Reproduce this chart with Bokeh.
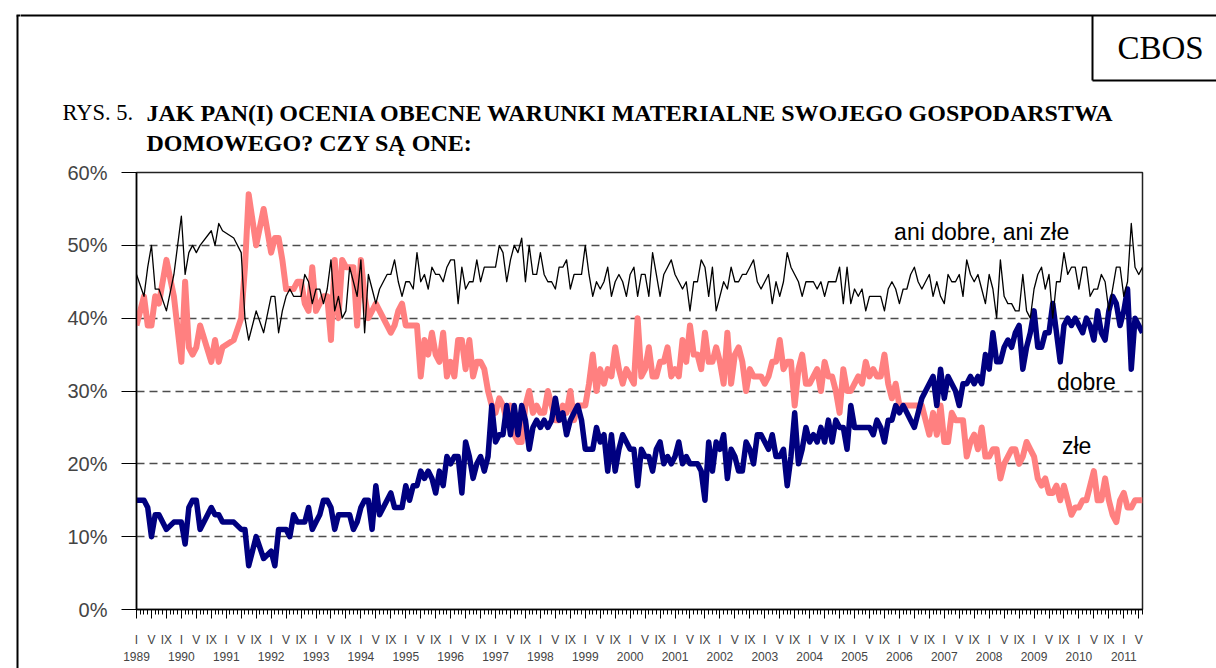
from bokeh.plotting import figure
from bokeh.models import Range1d, FixedTicker, Label, ColumnDataSource, LinearAxis
from bokeh.layouts import column, row
from bokeh.core.properties import value
from bokeh.embed import file_html
from bokeh.resources import INLINE

# ---------------- data (months counted from Jan 1989 = 0) ----------------
early_months = [0, 2, 3, 4, 5, 6, 8, 10, 12, 13, 14, 15, 16, 17, 20, 21, 22, 23,
                26, 28, 29, 30, 32, 34]
ani_early = [46, 43, 47, 50, 44, 44, 41, 46, 54, 46, 49, 50, 49, 50, 52, 50, 53, 52,
             51, 49, 40, 37, 41, 38]
zle_early = [39, 43, 39, 39, 43, 42, 48, 43, 34, 45, 36, 35, 36, 39, 34, 37, 34, 36,
             37, 40, 47, 57, 50, 55]
dobre_early = [15, 15, 14, 10, 13, 13, 11, 12, 12, 9, 14, 15, 15, 11, 14, 13, 13, 12,
               12, 11, 11, 6, 10, 7]

# monthly from Jan 1992 to Jun 2011
monthly_start = 36
monthly_end = 269

ani_monthly = [
    43, 43, 38, 41, 43, 44, 43, 43, 43, 46, 45, 42,   # 1992
    44, 44, 42, 44, 48, 41, 43, 40, 41, 47, 45, 43,   # 1993
    48, 38, 46, 44, 42, 44, 45, 46, 46, 48, 45, 43,   # 1994
    45, 45, 44, 49, 45, 46, 44, 47, 46, 46, 45, 47,   # 1995
    48, 48, 42, 47, 44, 45, 45, 48, 45, 47, 47, 47,   # 1996
    47, 50, 49, 45, 48, 50, 49, 51, 45, 50, 46, 46,   # 1997
    49, 46, 45, 45, 44, 47, 47, 48, 44, 46, 46, 46,   # 1998
    50, 46, 43, 45, 44, 45, 47, 43, 45, 46, 45, 43,   # 1999
    46, 47, 43, 46, 46, 43, 49, 46, 43, 46, 47, 48,   # 2000
    46, 45, 44, 45, 41, 45, 45, 48, 47, 43, 47, 41,   # 2001
    43, 45, 44, 47, 45, 45, 46, 46, 47, 48, 45, 44,   # 2002
    45, 46, 42, 45, 43, 45, 49, 47, 46, 45, 43, 45,   # 2003
    45, 45, 44, 45, 43, 45, 45, 45, 47, 42, 47, 42,   # 2004
    44, 43, 44, 41, 43, 43, 43, 43, 41, 44, 45, 44,   # 2005
    42, 44, 44, 46, 47, 45, 44, 45, 46, 43, 45, 43,   # 2006
    42, 46, 45, 45, 46, 43, 48, 46, 45, 46, 44, 42,   # 2007
    46, 44, 40, 48, 43, 42, 42, 41, 41, 46, 41, 40,   # 2008
    44, 46, 47, 44, 46, 40, 45, 45, 49, 46, 47, 47,   # 2009
    44, 47, 47, 43, 44, 44, 46, 45, 41, 44, 47, 47,   # 2010
    43, 45, 53, 47, 46, 47,                           # 2011
]
zle_monthly = [
    49, 51, 51, 48, 44, 44, 44, 45, 45, 42, 41, 47,   # 1992
    41, 42, 43, 43, 37, 48, 40, 48, 47, 47, 47, 39,   # 1993
    48, 43, 40, 41, 42, 41, 40, 39, 38, 39, 41, 42,   # 1994
    39, 39, 39, 39, 32, 37, 35, 38, 35, 34, 38, 32,   # 1995
    34, 32, 37, 37, 33, 37, 32, 34, 34, 33, 30, 28,   # 1996
    27, 29, 28, 26, 28, 24, 23, 23, 28, 30, 27, 28,   # 1997
    27, 27, 30, 28, 26, 26, 28, 27, 30, 26, 28, 28,   # 1998
    28, 31, 35, 30, 33, 31, 33, 32, 36, 33, 31, 33,   # 1999
    32, 31, 40, 32, 33, 36, 32, 32, 34, 34, 36, 32,   # 2000
    33, 32, 37, 34, 39, 35, 35, 33, 38, 34, 34, 36,   # 2001
    34, 31, 38, 31, 35, 36, 34, 30, 33, 32, 32, 32,   # 2002
    31, 32, 34, 34, 37, 33, 34, 34, 28, 33, 35, 31,   # 2003
    31, 32, 33, 30, 34, 32, 32, 30, 27, 33, 30, 30,   # 2004
    31, 32, 31, 34, 32, 33, 32, 32, 35, 31, 29, 31,   # 2005
    28, 28, 28, 28, 28, 28, 28, 26, 24, 27, 24, 28,   # 2006
    23, 23, 27, 26, 26, 26, 21, 23, 24, 22, 25, 21,   # 2007
    21, 22, 22, 18, 20, 21, 22, 22, 20, 21, 23, 22,   # 2008
    21, 18, 17, 18, 16, 16, 17, 15, 17, 15, 13, 14,   # 2009
    14, 15, 15, 17, 19, 15, 15, 18, 15, 13, 12, 15,   # 2010
    16, 14, 14, 15, 15, 15,                           # 2011
]
dobre_monthly = [
    8, 6, 11, 11, 11, 10, 13, 12, 12, 12, 14, 11,     # 1992
    12, 13, 15, 15, 14, 11, 13, 13, 13, 13, 11, 12,   # 1993
    14, 15, 15, 11, 17, 13, 14, 15, 16, 14, 14, 14,   # 1994
    17, 15, 17, 17, 19, 18, 19, 18, 16, 19, 17, 21,   # 1995
    20, 21, 21, 16, 23, 21, 18, 20, 21, 19, 21, 28,   # 1996
    23, 24, 24, 28, 24, 28, 24, 28, 26, 22, 25, 26,   # 1997
    25, 26, 25, 26, 29, 26, 27, 24, 26, 27, 28, 26,   # 1998
    22, 22, 22, 25, 23, 24, 19, 24, 19, 22, 24, 23,   # 1999
    22, 22, 17, 22, 21, 21, 19, 22, 23, 20, 21, 20,   # 2000
    21, 23, 20, 21, 20, 20, 20, 19, 15, 23, 19, 23,   # 2001
    22, 24, 18, 22, 21, 19, 19, 23, 22, 20, 24, 24,   # 2002
    23, 22, 24, 21, 21, 22, 17, 21, 27, 20, 22, 25,   # 2003
    23, 24, 23, 25, 23, 26, 23, 26, 25, 25, 22, 28,   # 2004
    25, 25, 25, 25, 25, 24, 26, 25, 23, 26, 26, 28,   # 2005
    27, 28, 27, 26, 25, 27, 29, 30, 31, 32, 28, 33,   # 2006
    29, 32, 31, 30, 28, 31, 31, 32, 31, 32, 31, 35,   # 2007
    33, 38, 34, 34, 36, 37, 36, 38, 39, 33, 36, 38,   # 2008
    41, 36, 36, 38, 38, 42, 38, 34, 39, 40, 39, 40,   # 2009
    39, 38, 40, 39, 37, 41, 38, 37, 41, 43, 42, 39,   # 2010
    41, 44, 33, 40, 39, 38,                           # 2011
]

years = list(range(1989, 2012))
roman = {0: "I", 4: "V", 8: "IX"}
y_ticks = [0, 10, 20, 30, 40, 50, 60]

series_names = ["ani dobre, ani złe", "dobre", "złe"]
title_prefix = "RYS. 5."
title_lines = ["JAK PAN(I) OCENIA OBECNE WARUNKI MATERIALNE SWOJEGO GOSPODARSTWA",
               "DOMOWEGO? CZY SĄ ONE:"]
source_tag = "CBOS"

# ---------------- assemble ----------------
months = early_months + list(range(monthly_start, monthly_end + 1))
ani = ani_early + ani_monthly
zle = zle_early + zle_monthly
dobre = dobre_early + dobre_monthly
for arr in (ani, zle, dobre):
    if len(arr) != len(months):
        raise ValueError("length mismatch %d vs %d" % (len(arr), len(months)))

src = ColumnDataSource(dict(m=months, ani=ani, zle=zle, dobre=dobre))

HEADER_H = 160
W = 1216
H = 668
STRIP_W = 20
BODY_H = H - HEADER_H


def blank(width, height, xr, yr):
    f = figure(width=width, height=height, output_backend="svg", toolbar_location=None,
               x_range=xr, y_range=yr, x_axis_location=None, y_axis_location=None,
               min_border=0, min_border_left=0, min_border_right=0,
               min_border_top=0, min_border_bottom=0,
               background_fill_color="white", border_fill_color="white")
    f.outline_line_color = None
    f.grid.visible = False
    return f


# ---------------- left strip: outer frame's left edge (page pixel coords) ----------------
st = blank(STRIP_W, H, Range1d(0, STRIP_W), Range1d(H, 0))
st.segment(x0=[17, 16], y0=[15, 15], x1=[17, STRIP_W + 2], y1=[H + 5, 15],
           line_color="black", line_width=2)

# ---------------- header (page pixel coordinates) ----------------
hd = blank(W - STRIP_W, HEADER_H, Range1d(STRIP_W, W), Range1d(HEADER_H, 0))
hd.segment(x0=[STRIP_W - 2, 1092, 1092], y0=[15, 15, 80],
           x1=[W + 5, 1092, W + 5], y1=[15, 80, 80],
           line_color="black", line_width=2)
hd.text(x=[1160], y=[47], text=[source_tag], text_font=value("Liberation Serif"),
        text_font_size="33px", text_align="center", text_baseline="middle",
        text_color="black")
hd.text(x=[62], y=[112], text=[title_prefix], text_font=value("Liberation Serif"),
        text_font_size="22.5px", text_baseline="alphabetic", text_color="black")
hd.text(x=[146, 146], y=[112, 142], text=title_lines,
        text_font=value("Liberation Serif"), text_font_size="24px",
        text_font_style="bold", text_baseline="alphabetic", text_color="black")

# ---------------- chart ----------------
p = figure(width=W - STRIP_W, height=BODY_H, output_backend="svg",
           toolbar_location=None,
           x_range=Range1d(0, monthly_end), y_range=Range1d(0, 60),
           min_border_left=136 - STRIP_W, min_border_right=W - 1142,
           min_border_top=172 - HEADER_H, min_border_bottom=H - 609,
           background_fill_color="white", border_fill_color="white")
p.outline_line_color = "#222222"
p.outline_line_width = 1.5

major = [m for m in range(0, monthly_end + 1) if m % 4 == 0]
xa = p.xaxis[0]
xa.ticker = FixedTicker(ticks=major, minor_ticks=list(range(0, monthly_end + 1)))
xa.major_label_overrides = {m: roman[m % 12] for m in major}
xa.major_tick_out = 9
xa.major_tick_in = 0
xa.minor_tick_out = 5
xa.minor_tick_in = 0
xa.axis_line_width = 1.5
xa.major_label_text_font = "Liberation Sans"
xa.major_label_text_font_size = "12px"
xa.major_label_standoff = 14

year_ticks = [12 * i for i in range(len(years))]
ya2 = LinearAxis(ticker=FixedTicker(ticks=year_ticks, minor_ticks=[]),
                 major_label_overrides={12 * i: str(y) for i, y in enumerate(years)},
                 axis_line_color=None, major_tick_line_color=None,
                 minor_tick_line_color=None, major_tick_out=0, major_tick_in=0,
                 minor_tick_out=0, minor_tick_in=0,
                 major_label_text_font="Liberation Sans",
                 major_label_text_font_size="12px", major_label_standoff=2)
p.add_layout(ya2, "below")

ya = p.yaxis[0]
ya.ticker = FixedTicker(ticks=y_ticks)
ya.major_label_overrides = {v: "%d%%" % v for v in y_ticks}
ya.major_tick_out = 15
ya.major_tick_in = 0
ya.minor_tick_out = 0
ya.minor_tick_in = 0
ya.axis_line_width = 1.5
ya.major_label_text_font = "Liberation Sans"
ya.major_label_text_font_size = "20px"
ya.major_label_standoff = 14

p.xgrid.visible = False
p.ygrid.ticker = FixedTicker(ticks=[10, 20, 30, 40, 50])
p.ygrid.grid_line_color = "#4d4d4d"
p.ygrid.grid_line_dash = "8 5"
p.ygrid.grid_line_width = 1.3

p.line("m", "zle", source=src, line_color="#FF8080", line_width=6, line_join="round")
p.line("m", "dobre", source=src, line_color="#000080", line_width=5.5, line_join="round")
p.line("m", "ani", source=src, line_color="black", line_width=1.3, line_join="round")

for txt, xx, yy in [(series_names[0], 226, 51.8), (series_names[1], 254, 31.3),
                    (series_names[2], 251.4, 22.5)]:
    p.add_layout(Label(x=xx, y=yy, text=txt, text_font="Liberation Sans",
                       text_font_size="23px", text_align="center",
                       text_baseline="middle", text_color="black"))

# wrap the chart in its own row so that its frame is not aligned with the header's
layout = row(st, column(hd, row(p, spacing=0), spacing=0), spacing=0)
open("out.html", "w").write(file_html(layout, INLINE))
